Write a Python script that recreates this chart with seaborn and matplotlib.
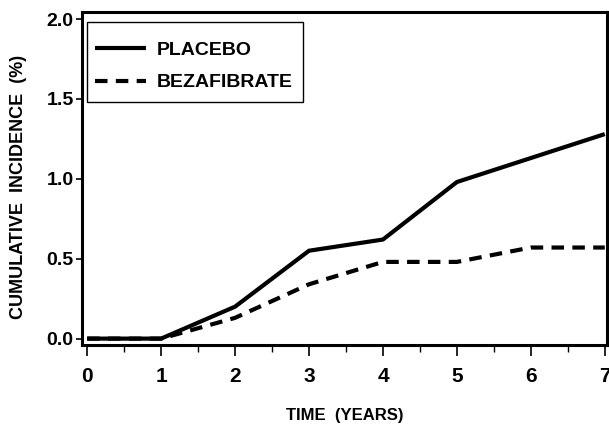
import numpy as np
import pandas as pd
import matplotlib
matplotlib.use('Agg')
import matplotlib.pyplot as plt
import seaborn as sns
from matplotlib.patches import Rectangle
from matplotlib.ticker import MultipleLocator

# ── data ──────────────────────────────────────────────────────────────────────
years = [0, 1, 2, 3, 4, 5, 6, 7]
placebo = [0.0, 0.0, 0.20, 0.55, 0.62, 0.98, 1.13, 1.28]
bezafibrate = [0.0, 0.0, 0.13, 0.34, 0.48, 0.48, 0.57, 0.57]
groups = ['PLACEBO', 'BEZAFIBRATE']
yticks = [0.0, 0.5, 1.0, 1.5, 2.0]

df = pd.concat([
    pd.DataFrame({'year': years, 'incidence': placebo, 'group': groups[0]}),
    pd.DataFrame({'year': years, 'incidence': bezafibrate, 'group': groups[1]}),
])

# ── plot ──────────────────────────────────────────────────────────────────────
sns.set_style('ticks')
plt.rcParams['font.family'] = ['Liberation Sans', 'DejaVu Sans']
plt.rcParams['text.color'] = 'black'
plt.rcParams['axes.labelcolor'] = 'black'
plt.rcParams['xtick.color'] = 'black'
plt.rcParams['ytick.color'] = 'black'

fig = plt.figure(figsize=(6.09, 4.37), dpi=100)
ax = fig.add_axes([82 / 609, 1 - 345 / 437, 525 / 609, 333 / 437])

sns.lineplot(data=df, x='year', y='incidence', hue='group', style='group',
             hue_order=groups, style_order=groups,
             palette=['black', 'black'], dashes=[(1, 0), (3.0, 2.0)],
             linewidth=3.0, ax=ax)

ax.set_xlim(-0.07, 7.03)
ax.set_ylim(-0.04, 2.044)
ax.xaxis.set_major_locator(MultipleLocator(1))
ax.xaxis.set_minor_locator(MultipleLocator(0.5))
ax.set_yticks(yticks)
ax.set_yticklabels([f'{v:.1f}' for v in yticks])
ax.tick_params(axis='x', which='major', direction='out', length=8, width=1.2,
               labelsize=15, pad=8)
ax.tick_params(axis='x', which='minor', direction='out', length=5, width=1.0)
ax.tick_params(axis='y', which='major', direction='out', length=4, width=1.2,
               labelsize=14, pad=2)
for lbl in ax.get_xticklabels() + ax.get_yticklabels():
    lbl.set_fontweight('bold')
for sp in ax.spines.values():
    sp.set_linewidth(2.2)
    sp.set_color('black')

ax.set_xlabel('TIME  (YEARS)', fontsize=12, fontweight='bold')
ax.set_ylabel('CUMULATIVE  INCIDENCE  (%)', fontsize=13, fontweight='bold')
ax.xaxis.set_label_coords(0.5, -0.19)
ax.yaxis.set_label_coords(-0.105, 0.474)

# legend: frameless entries plus a thin box, as in the original figure
leg = ax.legend(loc='upper left', bbox_to_anchor=(0.0248, 0.913),
                prop={'size': 14, 'weight': 'bold'}, frameon=False,
                handlelength=2.6, handletextpad=0.55, borderpad=0,
                borderaxespad=0, labelspacing=0.78)
ax.add_patch(Rectangle((0.0095, 0.730), 0.412, 0.240, transform=ax.transAxes,
                       fill=False, edgecolor='black', linewidth=1.0, zorder=5))

fig.savefig('out.png', dpi=100)
